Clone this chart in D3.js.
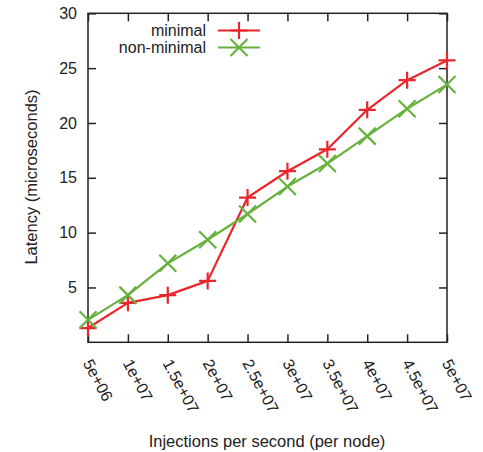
<!DOCTYPE html>
<html>
<head>
<meta charset="utf-8">
<script src="https://cdn.jsdelivr.net/npm/d3@7/dist/d3.min.js"></script>
<style>
  body { margin: 0; background: #fff; }
  svg text { font-family: "Liberation Sans", Arial, sans-serif; fill: #222; }
</style>
</head>
<body>
<svg id="chart" width="483" height="452"></svg>
<script>
// Injection rates (per node) and measured latencies
const injections = [5e6, 1e7, 1.5e7, 2e7, 2.5e7, 3e7, 3.5e7, 4e7, 4.5e7, 5e7];
const minimalLatency = [1.3, 3.6, 4.3, 5.6, 13.2, 15.6, 17.6, 21.2, 23.9, 25.7];
const nonMinimalLatency = [2.05, 4.3, 7.2, 9.35, 11.7, 14.2, 16.3, 18.8, 21.3, 23.5];
const xTickLabels = ["5e+06", "1e+07", "1.5e+07", "2e+07", "2.5e+07", "3e+07", "3.5e+07", "4e+07", "4.5e+07", "5e+07"];
const yTicks = [5, 10, 15, 20, 25, 30];

const series = [
  { name: "minimal", values: minimalLatency, color: "#e8262b", marker: "plus" },
  { name: "non-minimal", values: nonMinimalLatency, color: "#67b13d", marker: "cross" }
];

const svg = d3.select("#chart");
const plotLeft = 88, plotRight = 447, plotTop = 13.3, plotBottom = 342.3;

const x = d3.scaleLinear().domain([5e6, 5e7]).range([plotLeft, plotRight]);
const y = d3.scaleLinear().domain([0, 30]).range([plotBottom, plotTop]);

const axisColor = "#222";
const tickLen = 8;
const labelSize = 16;
const titleSize = 16.5;

// Frame
svg.append("rect")
  .attr("x", plotLeft).attr("y", plotTop)
  .attr("width", plotRight - plotLeft).attr("height", plotBottom - plotTop)
  .attr("fill", "none").attr("stroke", axisColor).attr("stroke-width", 1.5);

// Bottom axis with inward ticks, rotated labels
const xAxis = d3.axisBottom(x).tickValues(injections)
  .tickFormat((d, i) => xTickLabels[i]).tickSizeInner(-tickLen).tickSizeOuter(0).tickPadding(0);
const gx = svg.append("g").attr("transform", `translate(0,${plotBottom})`).call(xAxis);
gx.select(".domain").remove();
gx.selectAll(".tick line").attr("stroke", axisColor).attr("stroke-width", 1.5);
gx.selectAll(".tick text")
  .attr("font-size", labelSize).attr("text-anchor", "start")
  .attr("x", 0).attr("y", 0).attr("dy", "0.35em")
  .attr("transform", "translate(-1,18) rotate(62)");

// Top mirror ticks
const gxt = svg.append("g").attr("transform", `translate(0,${plotTop})`)
  .call(d3.axisTop(x).tickValues(injections).tickSizeInner(-tickLen).tickSizeOuter(0).tickFormat(""));
gxt.select(".domain").remove();
gxt.selectAll(".tick line").attr("stroke", axisColor).attr("stroke-width", 1.5);

// Left axis
const yAxis = d3.axisLeft(y).tickValues(yTicks).tickSizeInner(-tickLen).tickSizeOuter(0).tickPadding(11);
const gy = svg.append("g").attr("transform", `translate(${plotLeft},0)`).call(yAxis);
gy.select(".domain").remove();
gy.selectAll(".tick line").attr("stroke", axisColor).attr("stroke-width", 1.5);
gy.selectAll(".tick text").attr("font-size", labelSize);

// Right mirror ticks
const gyr = svg.append("g").attr("transform", `translate(${plotRight},0)`)
  .call(d3.axisRight(y).tickValues(yTicks).tickSizeInner(-tickLen).tickSizeOuter(0).tickFormat(""));
gyr.select(".domain").remove();
gyr.selectAll(".tick line").attr("stroke", axisColor).attr("stroke-width", 1.5);

// Axis titles
svg.append("text")
  .attr("transform", `translate(37,177) rotate(-90)`)
  .attr("text-anchor", "middle").attr("font-size", titleSize)
  .text("Latency (microseconds)");
svg.append("text")
  .attr("x", 267).attr("y", 447)
  .attr("text-anchor", "middle").attr("font-size", titleSize)
  .text("Injections per second (per node)");

// Marker paths
const ms = 8.5;
function markerPath(type) {
  if (type === "plus") return `M${-ms},0H${ms}M0,${-ms}V${ms}`;
  return `M${-ms},${-ms}L${ms},${ms}M${-ms},${ms}L${ms},${-ms}`;
}

const line = d3.line().x((d, i) => x(injections[i])).y(d => y(d));

series.forEach(s => {
  svg.append("path")
    .datum(s.values)
    .attr("d", line)
    .attr("fill", "none")
    .attr("stroke", s.color)
    .attr("stroke-width", 2.2)
    .attr("stroke-linejoin", "round");
  svg.append("g").selectAll("path")
    .data(s.values)
    .join("path")
    .attr("transform", (d, i) => `translate(${x(injections[i])},${y(d)})`)
    .attr("d", markerPath(s.marker))
    .attr("fill", "none")
    .attr("stroke", s.color)
    .attr("stroke-width", 2.2);
});

// Legend
const legend = svg.append("g");
series.forEach((s, i) => {
  const ly = 30.5 + i * 17;
  legend.append("text")
    .attr("x", 206).attr("y", ly).attr("dy", "0.35em")
    .attr("text-anchor", "end").attr("font-size", labelSize)
    .text(s.name);
  legend.append("line")
    .attr("x1", 218).attr("x2", 260).attr("y1", ly).attr("y2", ly)
    .attr("stroke", s.color).attr("stroke-width", 2.2);
  legend.append("path")
    .attr("transform", `translate(239,${ly})`)
    .attr("d", markerPath(s.marker))
    .attr("fill", "none").attr("stroke", s.color).attr("stroke-width", 2.2);
});
</script>
</body>
</html>
